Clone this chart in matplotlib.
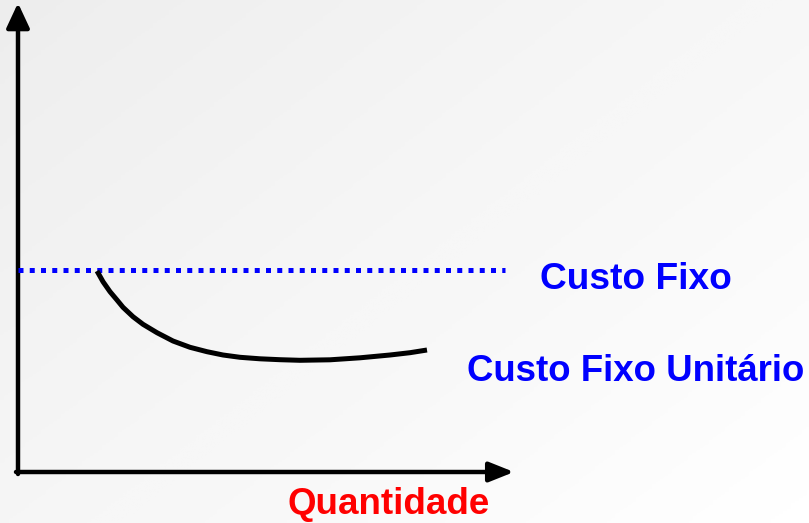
import numpy as np
import matplotlib
matplotlib.use("Agg")
import matplotlib.pyplot as plt

# quantity / cost values (arbitrary units)
fixed_cost = 202
fixed_q_end = 487
quantity = [79, 85, 92, 99, 105, 115, 125, 139, 155, 172, 189, 205, 222,
            242, 262, 282, 312, 342, 372, 392, 409]
unit_cost = [201, 190.3, 180.3, 172, 164.7, 155.3, 147.7, 139.3, 131, 124.7,
             120.3, 117, 114.7, 113.2, 112.3, 111.7, 112.2, 114.2, 117, 119.3, 122]

plt.rcParams['font.family'] = ['Liberation Sans', 'DejaVu Sans']

fig = plt.figure(figsize=(8.09, 5.23), dpi=100)
ax = fig.add_axes([0, 0, 1, 1])
ax.set_xlim(-18, 791)
ax.set_ylim(-51, 472)
ax.axis("off")

# soft grey-to-white background
gx, gy = np.meshgrid(np.linspace(0, 1, 200), np.linspace(0, 1, 200))
grad = 0.55 * gx + 0.45 * gy
ax.imshow(grad, extent=(-18, 791, -51, 472), origin="upper", cmap="Greys_r",
          vmin=-6, vmax=1.0, aspect="auto", zorder=0)

# axes with arrows
ax.annotate("", xy=(0, 469), xytext=(0, -2),
            arrowprops=dict(arrowstyle="-|>,head_length=1.5,head_width=0.7",
                            lw=3.2, color="black", shrinkA=0, shrinkB=0))
ax.annotate("", xy=(496, 0), xytext=(-2, 0),
            arrowprops=dict(arrowstyle="-|>,head_length=1.5,head_width=0.6",
                            lw=3.2, color="black", shrinkA=0, shrinkB=0))

# fixed cost (dotted) and unit fixed cost (curve)
ax.plot([0, fixed_q_end], [fixed_cost, fixed_cost], color="#0000ff", lw=3.6,
        dashes=(1, 1.25), dash_capstyle="butt", zorder=3)
ax.plot(quantity, unit_cost, color="black", lw=3.6, solid_capstyle="butt",
        solid_joinstyle="round", zorder=3)

ax.text(522, 183, "Custo Fixo", color="#0000ff", fontsize=26.7, fontweight="bold",
        va="baseline", ha="left")
ax.text(449, 91, "Custo Fixo Unitário", color="#0000ff", fontsize=26.4,
        fontweight="bold", va="baseline", ha="left")
ax.text(270, -42, "Quantidade", color="#ff0000", fontsize=26.5, fontweight="bold",
        va="baseline", ha="left")

fig.savefig("out.png", dpi=100)
